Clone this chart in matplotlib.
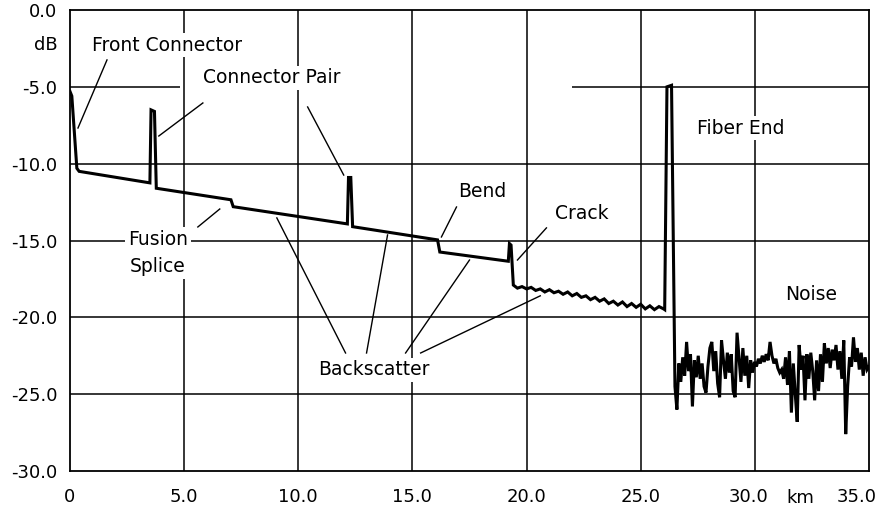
import numpy as np
import matplotlib
matplotlib.use("Agg")
import matplotlib.pyplot as plt
import matplotlib.transforms as mtransforms

plt.rcParams['font.family'] = ['DejaVu Sans']

# trace before the noisy part (km, dB)
trace_km = [0.0, 0.08, 0.3, 0.4, 3.5, 3.55, 3.7, 3.78, 7.05, 7.15, 12.15, 12.2, 12.3, 12.38,
            16.1, 16.2, 19.2, 19.25, 19.32, 19.42]
trace_db = [-5.3, -5.6, -10.3, -10.5, -11.25, -6.5, -6.6, -11.6, -12.35, -12.8, -13.92, -10.9, -10.9, -14.1,
            -14.96, -15.75, -16.35, -15.2, -15.3, -17.9]

# rough backscatter after the crack
back_km = [19.6, 19.8, 20.0, 20.2, 20.4, 20.6, 20.8, 21.0, 21.2, 21.4, 21.6, 21.8, 22.0, 22.2, 22.4,
           22.6, 22.8, 23.0, 23.2, 23.4, 23.6, 23.8, 24.0, 24.2, 24.4, 24.6, 24.8, 25.0, 25.2, 25.4,
           25.6, 25.8, 26.0]
back_db = [-18.1, -18.0, -18.15, -18.05, -18.25, -18.15, -18.35, -18.2, -18.4, -18.3, -18.5, -18.35,
           -18.6, -18.45, -18.7, -18.6, -18.85, -18.7, -18.95, -18.8, -19.1, -18.95, -19.2, -19.0,
           -19.3, -19.1, -19.35, -19.15, -19.45, -19.25, -19.5, -19.3, -19.45]

# fiber end reflection
end_km = [26.05, 26.15, 26.35]
end_db = [-19.5, -5.0, -4.9]

# noise floor, sampled from 26.5 to 35 km
noise_start, noise_end = 26.5, 35.0
noise_db = [-24.5, -26.0, -23.0, -24.2, -22.6, -23.8, -21.6, -23.5, -22.4, -25.8,
            -22.8, -23.9, -22.5, -24.0, -23.0, -24.5, -24.9, -23.2, -22.0, -21.6,
            -23.5, -22.2, -24.3, -25.2, -21.5, -22.8, -24.0, -22.3, -23.6, -22.4,
            -24.8, -25.2, -21.0, -22.6, -24.2, -22.0, -23.8, -22.5, -24.6, -22.8,
            -23.6, -22.9, -23.2, -22.7, -23.0, -22.5, -22.9, -22.4, -22.8, -21.6,
            -22.5, -23.0, -22.7, -23.3, -23.6, -23.4, -24.0, -22.6, -24.4, -22.2,
            -26.2, -23.0, -25.0, -26.8, -21.8, -23.4, -22.5, -25.4, -22.4, -24.0,
            -22.3, -23.5, -25.4, -22.8, -24.8, -22.4, -24.2, -21.7, -23.0, -22.0,
            -23.3, -22.1, -22.8, -21.8, -23.4, -22.2, -24.0, -21.5, -27.6, -24.5,
            -22.6, -23.2, -21.3, -22.9, -22.0, -23.4, -22.3, -23.8, -22.6, -23.4, -23.2]
noise_km = np.linspace(noise_start, noise_end, len(noise_db))

# labels: text, x, y
labels = [
    ("Front Connector", 4.24, -2.28),
    ("Connector Pair", 8.84, -4.42),
    ("Fusion\nSplice", 3.85, -15.8),
    ("Bend", 18.07, -11.78),
    ("Crack", 22.4, -13.27),
    ("Backscatter", 13.3, -23.42),
    ("Fiber End", 29.4, -7.68),
    ("Noise", 32.46, -18.54),
]

# leader lines: (x0, y0, x1, y1)
leaders = [
    (1.62, -3.25, 0.35, -7.68),
    (5.82, -6.05, 3.89, -8.2),
    (10.41, -6.31, 11.99, -10.74),
    (6.56, -12.95, 5.6, -14.12),
    (16.93, -12.82, 16.27, -14.77),
    (20.87, -14.18, 19.6, -16.27),
    (9.06, -13.53, 12.07, -22.32),
    (13.91, -14.64, 12.99, -22.32),
    (17.5, -16.27, 14.7, -22.32),
    (20.6, -18.6, 15.36, -22.32),
]

x_ticks = [0, 5, 10, 15, 20, 25, 30, 35]
x_labels = ["0", "5.0", "10.0", "15.0", "20.0", "25.0", "30.0", "35.0"]
y_ticks = [0, -5, -10, -15, -20, -25, -30]
y_labels = ["0.0", "-5.0", "-10.0", "-15.0", "-20.0", "-25.0", "-30.0"]

fig = plt.figure(figsize=(8.79, 5.08), dpi=100)
ax = fig.add_axes([70 / 879, 1 - 471 / 508, 799 / 879, 461 / 508])
ax.set_xlim(0, 35)
ax.set_ylim(-30, 0)

# grid
for yv in [-10, -15, -20, -25]:
    ax.axhline(yv, color='black', lw=1.1, zorder=1)
ax.hlines(-5, 0, 4.8, color='black', lw=1.1, zorder=1)
ax.hlines(-5, 22.0, 35, color='black', lw=1.1, zorder=1)
for xv in [5, 10, 15, 20, 25, 30]:
    ax.axvline(xv, color='black', lw=1.1, zorder=1)

# trace
all_km = trace_km + back_km + end_km + list(noise_km)
all_db = trace_db + back_db + end_db + noise_db
ax.plot(all_km, all_db, color='black', lw=2.2, solid_joinstyle='miter', zorder=4)

for x0, y0, x1, y1 in leaders:
    ax.plot([x0, x1], [y0, y1], color='black', lw=1.0, zorder=3)

for txt, xv, yv in labels:
    ax.text(xv, yv, txt, ha='center', va='center', fontsize=13.5, linespacing=1.55, zorder=5,
            bbox=dict(facecolor='white', edgecolor='none', pad=2))

ax.set_xticks(x_ticks, x_labels)
ax.set_yticks(y_ticks, y_labels)
ax.tick_params(length=0, labelsize=13)
ax.tick_params(axis='x', pad=12)
ax.tick_params(axis='y', pad=9)
for sp in ax.spines.values():
    sp.set_linewidth(1.3)

# last two x labels sit a bit left of their gridlines
xl = ax.get_xticklabels()
for lab, dx in [(xl[-2], -6), (xl[-1], -12)]:
    lab.set_transform(lab.get_transform() + mtransforms.ScaledTranslation(dx / 100, 0, fig.dpi_scale_trans))

ax.text(-0.016, -2.28, "dB", transform=mtransforms.blended_transform_factory(ax.transAxes, ax.transData),
        ha='right', va='center', fontsize=13)
ax.text(32.0, -0.058, "km", transform=mtransforms.blended_transform_factory(ax.transData, ax.transAxes),
        ha='center', va='center', fontsize=13)

fig.savefig("out.png", dpi=100)
